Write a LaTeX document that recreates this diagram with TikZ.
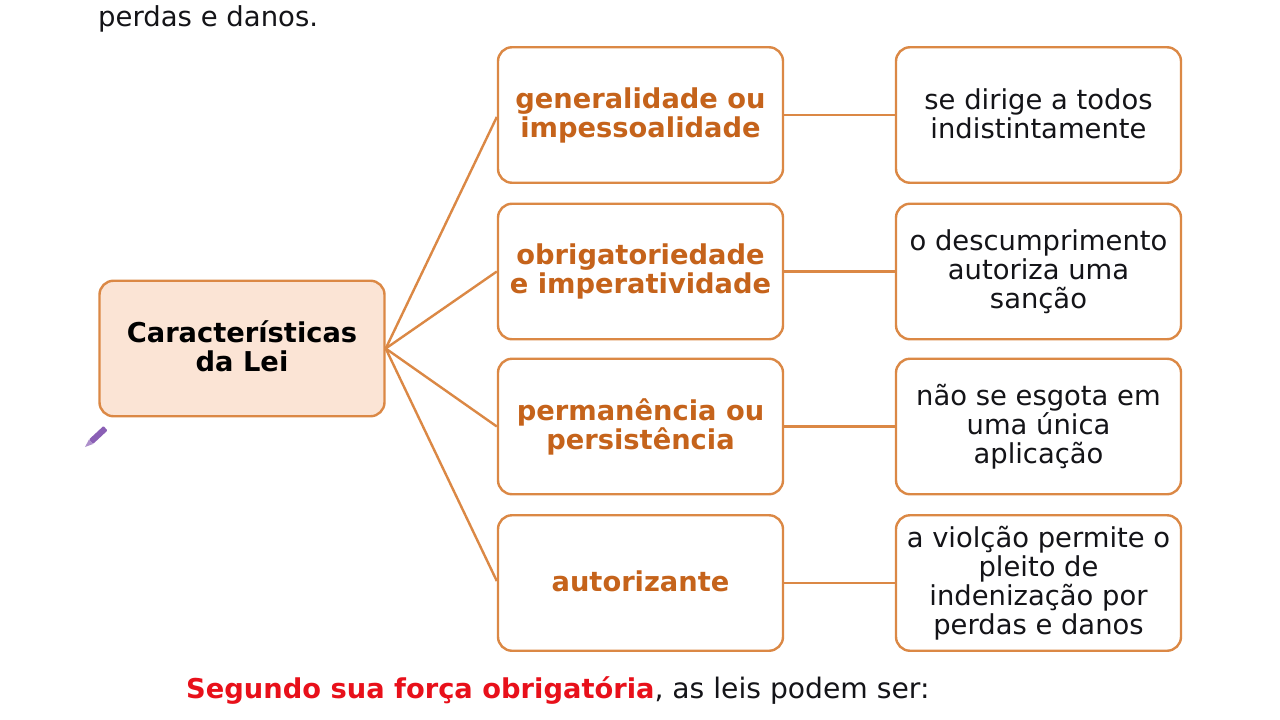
\documentclass[tikz,border=0pt]{standalone}
\usepackage{fontspec}
\usetikzlibrary{calc}
\setmainfont{DejaVu Sans}
\newcommand{\uplift}[1]{\rule[-#1]{0pt}{#1}}
\definecolor{edgeor}{HTML}{DB8845}
\definecolor{heador}{HTML}{C5631B}
\definecolor{fillor}{HTML}{FBE4D5}
\definecolor{inkdark}{HTML}{141418}
\definecolor{redtxt}{HTML}{E8101A}
\definecolor{pen}{HTML}{8A5FB5}
\tikzset{
  x=1pt,y=-1pt,
  basebox/.style={draw=edgeor,line width=2.4pt,rounded corners=14pt,minimum width=285pt,minimum height=135.5pt,align=center,inner sep=0pt,fill=white,text=inkdark},
  midbox/.style={basebox,text=heador,font=\fontsize{27.3}{29}\selectfont\bfseries},
  endbox/.style={basebox,font=\fontsize{27.4}{29}\selectfont},
  mainbox/.style={basebox,fill=fillor,text=black,font=\fontsize{27.3}{29}\selectfont\bfseries},
  link/.style={draw=edgeor,line width=2.4pt},
  plain/.style={inner sep=0pt,anchor=base west,text=inkdark,font=\fontsize{27.5}{29}\selectfont}
}
\begin{document}
\begin{tikzpicture}
\useasboundingbox (0,0) rectangle (1280,720);
\fill[white] (0,0) rectangle (1280,720);
\node[mainbox] (main) at (242,348.5) {Características\\da Lei\uplift{5pt}};
\node[midbox] (m1) at (640.5,115) {generalidade ou\\impessoalidade};
\node[midbox] (m2) at (640.5,271.5) {obrigatoriedade\\e imperatividade};
\node[midbox] (m3) at (640.5,426.5) {permanência ou\\persistência};
\node[midbox] (m4) at (640.5,583) {autorizante\uplift{4pt}};
\node[endbox] (e1) at (1038.5,115) {se dirige a todos\\indistintamente\uplift{3pt}};
\node[endbox] (e2) at (1038.5,271.5) {o descumprimento\\autoriza uma\\sanção};
\node[endbox] (e3) at (1038.5,426.5) {não se esgota em\\uma única\\aplicação};
\node[endbox] (e4) at (1038.5,583) {a violção permite o\\pleito de\\indenização por\\perdas e danos};
\draw[link] (main.east) -- ($(m1.west)+(0,2)$);
\draw[link] (main.east) -- (m2.west);
\draw[link] (main.east) -- (m3.west);
\draw[link] (main.east) -- ($(m4.west)+(0,-2)$);
\foreach \n in {1,2,3,4}{
  \draw[link] (m\n.east) -- (e\n.west);
}
\node[plain] (top) at (98,26) {perdas e danos.};
\node[plain] (bottom) at (186,698) {\textcolor{redtxt}{\bfseries\fontsize{27.3}{29}\selectfont Segundo sua força obrigatória}\fontsize{28.2}{29}\selectfont, as leis podem ser:};
\fill[pen,rounded corners=1pt] (89,439.5) -- (103.5,426) -- (107.5,430.5) -- (93,444) -- cycle;
\fill[pen!70] (85,447) -- (89,439.5) -- (93,444) -- cycle;
\end{tikzpicture}
\end{document}
